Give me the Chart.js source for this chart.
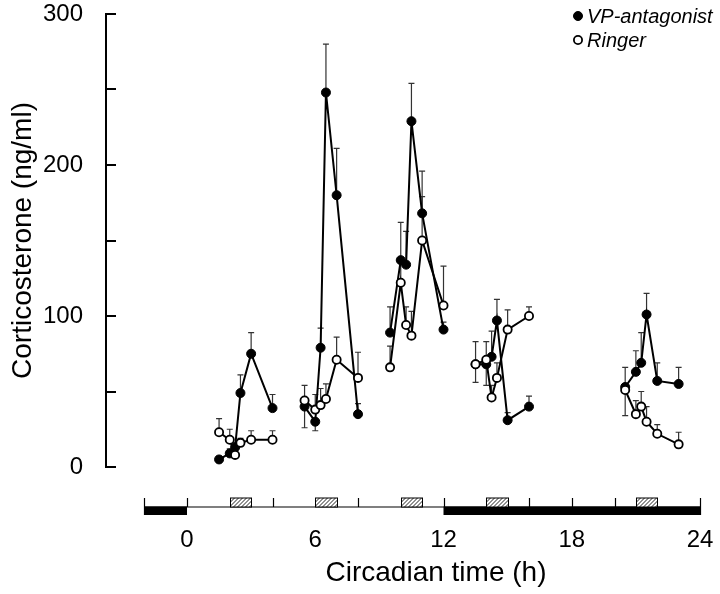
<!DOCTYPE html>
<html><head><meta charset="utf-8">
<script src="https://cdn.jsdelivr.net/npm/chart.js@4.4.1/dist/chart.umd.min.js"></script>
<style>html,body{margin:0;padding:0;background:#fff}canvas{display:block}</style>
</head><body>
<canvas id="c" width="720" height="594"></canvas>
<script>
// ---- data ----
// sampling times (circadian time, h), one array per injection session
const sessionTimes = [
  [1.5, 2, 2.25, 2.5, 3, 4],
  [5.5, 6, 6.25, 6.5, 7, 8],
  [9.5, 10, 10.25, 10.5, 11, 12],
  [13.5, 14, 14.25, 14.5, 15, 16],
  [20.5, 21, 21.25, 21.5, 22, 23]
];
// corticosterone (ng/ml), VP-antagonist
const vpMean = [
  [5, 9, 13, 49, 75, 39],
  [40, 30, 79, 248, 180, 35],
  [89, 137, 134, 229, 168, 91],
  [68, 68, 73, 97, 31, 40],
  [53, 63, 69, 101, 57, 55]
];
// SEM (a negative value: error bar drawn below the point)
const vpSem = [
  [2, 3, 3, 12, 14, 9],
  [-14, -6, 13, 32, 31, 7],
  [17, 25, 22, 25, 28, 5],
  [-12, -14, 17, 14, 5, 7],
  [13, 14, 20, 14, 12, 11]
];
// Ringer
const ringerMean = [
  [23, 18, 8, 16, 18, 18],
  [44, 38, 41, 45, 71, 59],
  [66, 122, 94, 87, 150, 107],
  [68, 71, 46, 59, 91, 100],
  [51, 35, 40, 30, 22, 15]
];
const ringerSem = [
  [9, 7, 3, 3, 6, 6],
  [10, 10, 11, 10, 15, 17],
  [14, 13, 12, 16, 29, 26],
  [15, 12, 8, 10, 13, 6],
  [-17, 9, 10, 10, 6, 8]
];
const seriesNames = ['VP-antagonist', 'Ringer'];
const xTickLabels = [0, 6, 12, 18, 24];
const yTickLabels = [0, 100, 200, 300];
// light/dark bar below the axis
const barSpan = [-2, 24];
const darkSpans = [[-2, 0], [12, 24]];
const barTicks = [-2, 0, 4, 8, 12, 16, 18, 20, 24];
const injections = [[2, 3], [6, 7], [10, 11], [14, 15], [21, 22]];
const xMin = -3.79, xMax = 24, yMin = 0, yMax = 300;

// ---- build ----
const FONT = '"Liberation Sans", Arial, Helvetica, sans-serif';
function points(means, sems) {
  const pts = [];
  sessionTimes.forEach((ts, s) => {
    if (s > 0) pts.push({x: (sessionTimes[s - 1][sessionTimes[s - 1].length - 1] + ts[0]) / 2, y: null});
    ts.forEach((t, i) => pts.push({x: t, y: means[s][i], sem: sems[s][i]}));
  });
  return pts;
}

const errorBars = {
  id: 'errorBars',
  beforeDatasetsDraw(chart) {
    const {ctx} = chart, y = chart.scales.y;
    ctx.save();
    ctx.strokeStyle = '#333';
    ctx.lineWidth = 1.2;
    chart.data.datasets.forEach((ds, di) => {
      const meta = chart.getDatasetMeta(di);
      ds.data.forEach((p, i) => {
        if (p.y == null || !p.sem) return;
        const el = meta.data[i];
        const yEnd = y.getPixelForValue(p.y + p.sem);
        ctx.beginPath();
        ctx.moveTo(el.x, el.y);
        ctx.lineTo(el.x, yEnd);
        ctx.moveTo(el.x - 3, yEnd);
        ctx.lineTo(el.x + 3, yEnd);
        ctx.stroke();
      });
    });
    ctx.restore();
  }
};

const decorations = {
  id: 'decorations',
  afterDraw(chart) {
    const {ctx, chartArea} = chart, x = chart.scales.x, y = chart.scales.y;
    ctx.save();
    // inward y ticks
    ctx.strokeStyle = '#000';
    ctx.lineWidth = 2;
    y.ticks.forEach(t => {
      const py = Math.round(y.getPixelForValue(t.value));
      ctx.beginPath();
      ctx.moveTo(chartArea.left, py);
      ctx.lineTo(chartArea.left + 10, py);
      ctx.stroke();
    });
    // light/dark bar
    const y0 = chartArea.bottom + 40;
    ctx.lineWidth = 1.2;
    ctx.beginPath();
    ctx.moveTo(x.getPixelForValue(barSpan[0]), y0);
    ctx.lineTo(x.getPixelForValue(barSpan[1]), y0);
    ctx.stroke();
    ctx.fillStyle = '#000';
    darkSpans.forEach(([a, b]) => {
      const pa = x.getPixelForValue(a), pb = x.getPixelForValue(b);
      ctx.fillRect(pa, y0 - 0.5, pb - pa, 8.5);
    });
    barTicks.forEach(v => {
      const px = Math.round(x.getPixelForValue(v)) + 0.5;
      const end = (v === barSpan[0] || v === barSpan[1]);
      ctx.beginPath();
      ctx.moveTo(px, y0 - 9);
      ctx.lineTo(px, end ? y0 + 8 : y0);
      ctx.stroke();
    });
    // injection boxes (hatched)
    injections.forEach(([a, b]) => {
      const pa = Math.round(x.getPixelForValue(a)) + 0.5, pb = Math.round(x.getPixelForValue(b)) + 0.5;
      const top = y0 - 9, h = 9;
      ctx.fillStyle = '#fff';
      ctx.fillRect(pa, top, pb - pa, h);
      ctx.save();
      ctx.beginPath();
      ctx.rect(pa, top, pb - pa, h);
      ctx.clip();
      ctx.lineWidth = 1;
      ctx.strokeStyle = '#222';
      for (let k = pa - h; k < pb + h; k += 4) {
        ctx.beginPath();
        ctx.moveTo(k, top + h);
        ctx.lineTo(k + h, top);
        ctx.stroke();
      }
      ctx.restore();
      ctx.lineWidth = 1;
      ctx.strokeStyle = '#000';
      ctx.strokeRect(pa, top, pb - pa, h);
    });
    // x axis title
    ctx.fillStyle = '#000';
    ctx.font = '28px ' + FONT;
    ctx.textAlign = 'center';
    ctx.textBaseline = 'alphabetic';
    ctx.fillText('Circadian time (h)', 436, 581);
    // legend
    const lx = 578;
    const rows = [{name: seriesNames[0], filled: true, y: 16}, {name: seriesNames[1], filled: false, y: 40}];
    ctx.font = 'italic 20px ' + FONT;
    ctx.textAlign = 'left';
    ctx.textBaseline = 'middle';
    rows.forEach(r => {
      ctx.beginPath();
      ctx.arc(lx, r.y, r.filled ? 4.5 : 4.1, 0, Math.PI * 2);
      ctx.fillStyle = r.filled ? '#000' : '#fff';
      ctx.fill();
      ctx.lineWidth = r.filled ? 1 : 1.8;
      ctx.strokeStyle = '#000';
      ctx.stroke();
      ctx.fillStyle = '#000';
      ctx.fillText(r.name, lx + 9, r.y + 1);
    });
    ctx.restore();
  }
};

new Chart(document.getElementById('c'), {
  type: 'line',
  data: {
    datasets: [
      {
        label: seriesNames[1], data: points(ringerMean, ringerSem),
        borderColor: '#000', borderWidth: 2, backgroundColor: '#fff',
        pointRadius: 4.1, pointBorderWidth: 1.8, pointBackgroundColor: '#fff', pointBorderColor: '#000',
        spanGaps: false, tension: 0, clip: false, order: 0
      },
      {
        label: seriesNames[0], data: points(vpMean, vpSem),
        borderColor: '#000', borderWidth: 2, backgroundColor: '#000',
        pointRadius: 4.5, pointBorderWidth: 1, pointBackgroundColor: '#000', pointBorderColor: '#000',
        spanGaps: false, tension: 0, clip: false, order: 1
      }
    ]
  },
  options: {
    responsive: false,
    animation: false,
    events: [],
    layout: {padding: {top: 14, right: 20, left: 0, bottom: 0}},
    plugins: {legend: {display: false}, tooltip: {enabled: false}},
    scales: {
      x: {
        type: 'linear', min: xMin, max: xMax,
        afterFit: s => { s.height = 127; s.paddingLeft = 0; s.paddingRight = 0; },
        afterBuildTicks: s => { s.ticks = xTickLabels.map(v => ({value: v})); },
        grid: {display: false}, border: {display: false},
        ticks: {font: {family: FONT, size: 24}, color: '#000', padding: 51, maxRotation: 0, autoSkip: false}
      },
      y: {
        min: yMin, max: yMax,
        afterFit: s => { s.width = 106; s.paddingTop = 0; s.paddingBottom = 0; },
        afterBuildTicks: s => {
          const t = [];
          for (let v = yMin; v <= yMax; v += 50) t.push({value: v});
          s.ticks = t;
        },
        grid: {display: false},
        border: {display: true, color: '#000', width: 2},
        ticks: {
          font: {family: FONT, size: 24}, color: '#000', padding: 15, autoSkip: false,
          callback: v => (yTickLabels.includes(v) ? String(v) : '')
        },
        title: {display: true, text: 'Corticosterone (ng/ml)', color: '#000', font: {family: FONT, size: 28}, padding: {top: 6, bottom: 0}}
      }
    }
  },
  plugins: [errorBars, decorations]
});
</script>
</body></html>
